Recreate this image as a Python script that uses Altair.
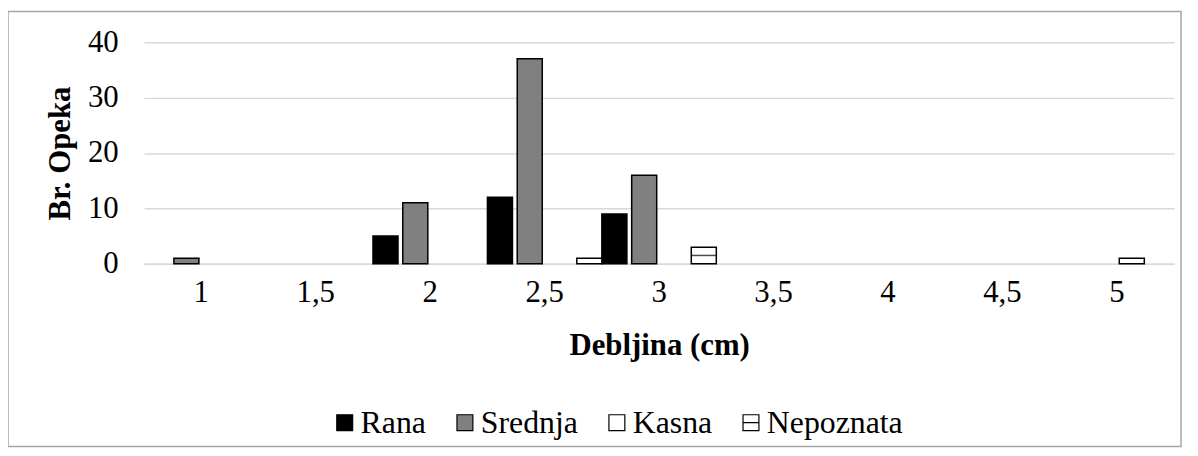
import altair as alt
import pandas as pd

categories = ["1", "1,5", "2", "2,5", "3", "3,5", "4", "4,5", "5"]
series_names = ["Rana", "Srednja", "Kasna", "Nepoznata"]
rana = [0, 0, 5, 12, 9, 0, 0, 0, 0]
srednja = [1, 0, 11, 37, 16, 0, 0, 0, 0]
kasna = [0, 0, 0, 0, 0, 0, 0, 0, 1]
nepoznata = [0, 0, 0, 1, 3, 0, 0, 0, 0]
fills = ["#000000", "#808080", "#ffffff", "#ffffff"]

rows = []
for name, vals in zip(series_names, [rana, srednja, kasna, nepoznata]):
    for c, v in zip(categories, vals):
        rows.append({"cat": c, "series": name, "value": v})
df = pd.DataFrame(rows)

FONT = "Liberation Serif, Times New Roman, serif"
FS = 31

x_scale = alt.Scale(domain=categories, paddingInner=0, paddingOuter=0)
x_enc = alt.X("cat:N", sort=categories, scale=x_scale,
              axis=alt.Axis(title="Debljina (cm)", labelAngle=0, ticks=False,
                            domainColor="#d9d9d9", domainWidth=1.5,
                            labelPadding=14, titlePadding=23,
                            labelFont=FONT, titleFont=FONT, labelFontSize=FS,
                            titleFontSize=FS, labelColor="black", titleColor="black",
                            titleFontWeight="bold"))
xoff_scale = alt.Scale(domain=series_names, paddingInner=0.16, paddingOuter=0)
xoff = alt.XOffset("series:N", sort=series_names, scale=xoff_scale)
y_enc = alt.Y("value:Q", scale=alt.Scale(domain=[0, 40]),
              axis=alt.Axis(title="Br. Opeka", values=[0, 10, 20, 30, 40], domain=False,
                            ticks=False, gridColor="#d9d9d9", gridWidth=1.5,
                            labelPadding=26, titlePadding=11,
                            labelFont=FONT, titleFont=FONT, labelFontSize=FS,
                            titleFontSize=FS, labelColor="black", titleColor="black",
                            titleFontWeight="bold"))
legend_def = alt.Legend(title=None, orient="none", legendX=186, legendY=367,
                        direction="horizontal", labelFont=FONT, labelFontSize=32,
                        labelColor="black", symbolSize=256, symbolStrokeColor="black",
                        symbolStrokeWidth=1.2, columnPadding=23, labelOffset=0)
fill_enc = alt.Fill("series:N", sort=series_names,
                    scale=alt.Scale(domain=series_names, range=fills),
                    legend=legend_def)

base = alt.Chart(df)

bars = base.transform_filter("datum.value > 0").mark_bar(
    stroke="black", strokeWidth=1.5
).encode(x=x_enc, xOffset=xoff, y=y_enc, fill=fill_enc)

pattern = base.transform_filter(
    "datum.series == 'Nepoznata' && datum.value >= 2"
).transform_calculate(mid="datum.value / 2").mark_tick(
    color="black", thickness=1.5, size=25, orient="horizontal"
).encode(x=alt.X("cat:N", sort=categories, scale=x_scale),
         xOffset=alt.XOffset("series:N", sort=series_names, scale=xoff_scale),
         y=alt.Y("mid:Q"))

legend_layer = base.transform_filter("false").mark_point(
    filled=True, stroke="black", strokeWidth=1.5, opacity=1
).encode(
    fill=fill_enc,
    shape=alt.Shape("series:N", sort=series_names,
                    scale=alt.Scale(domain=series_names,
                                    range=["square", "square", "square",
                                           "M-1,-1H1V1H-1ZM-1,0H1"]),
                    legend=legend_def),
)

frame = alt.Chart(pd.DataFrame({"k": [0]})).mark_rect(
    fill=None, stroke="#a6a6a6", strokeWidth=1.5, clip=False
).encode(x=alt.value(-137), x2=alt.value(1044), y=alt.value(-31), y2=alt.value(407))

chart = alt.layer(frame, bars, pattern, legend_layer).properties(
    width=1037, height=223,
    padding={"left": 137, "top": 33, "right": 16, "bottom": 184},
    autosize=alt.AutoSizeParams(type="none"),
).configure_view(stroke=None)

chart.save("out.html", embed_options={"renderer": "svg", "actions": False})
